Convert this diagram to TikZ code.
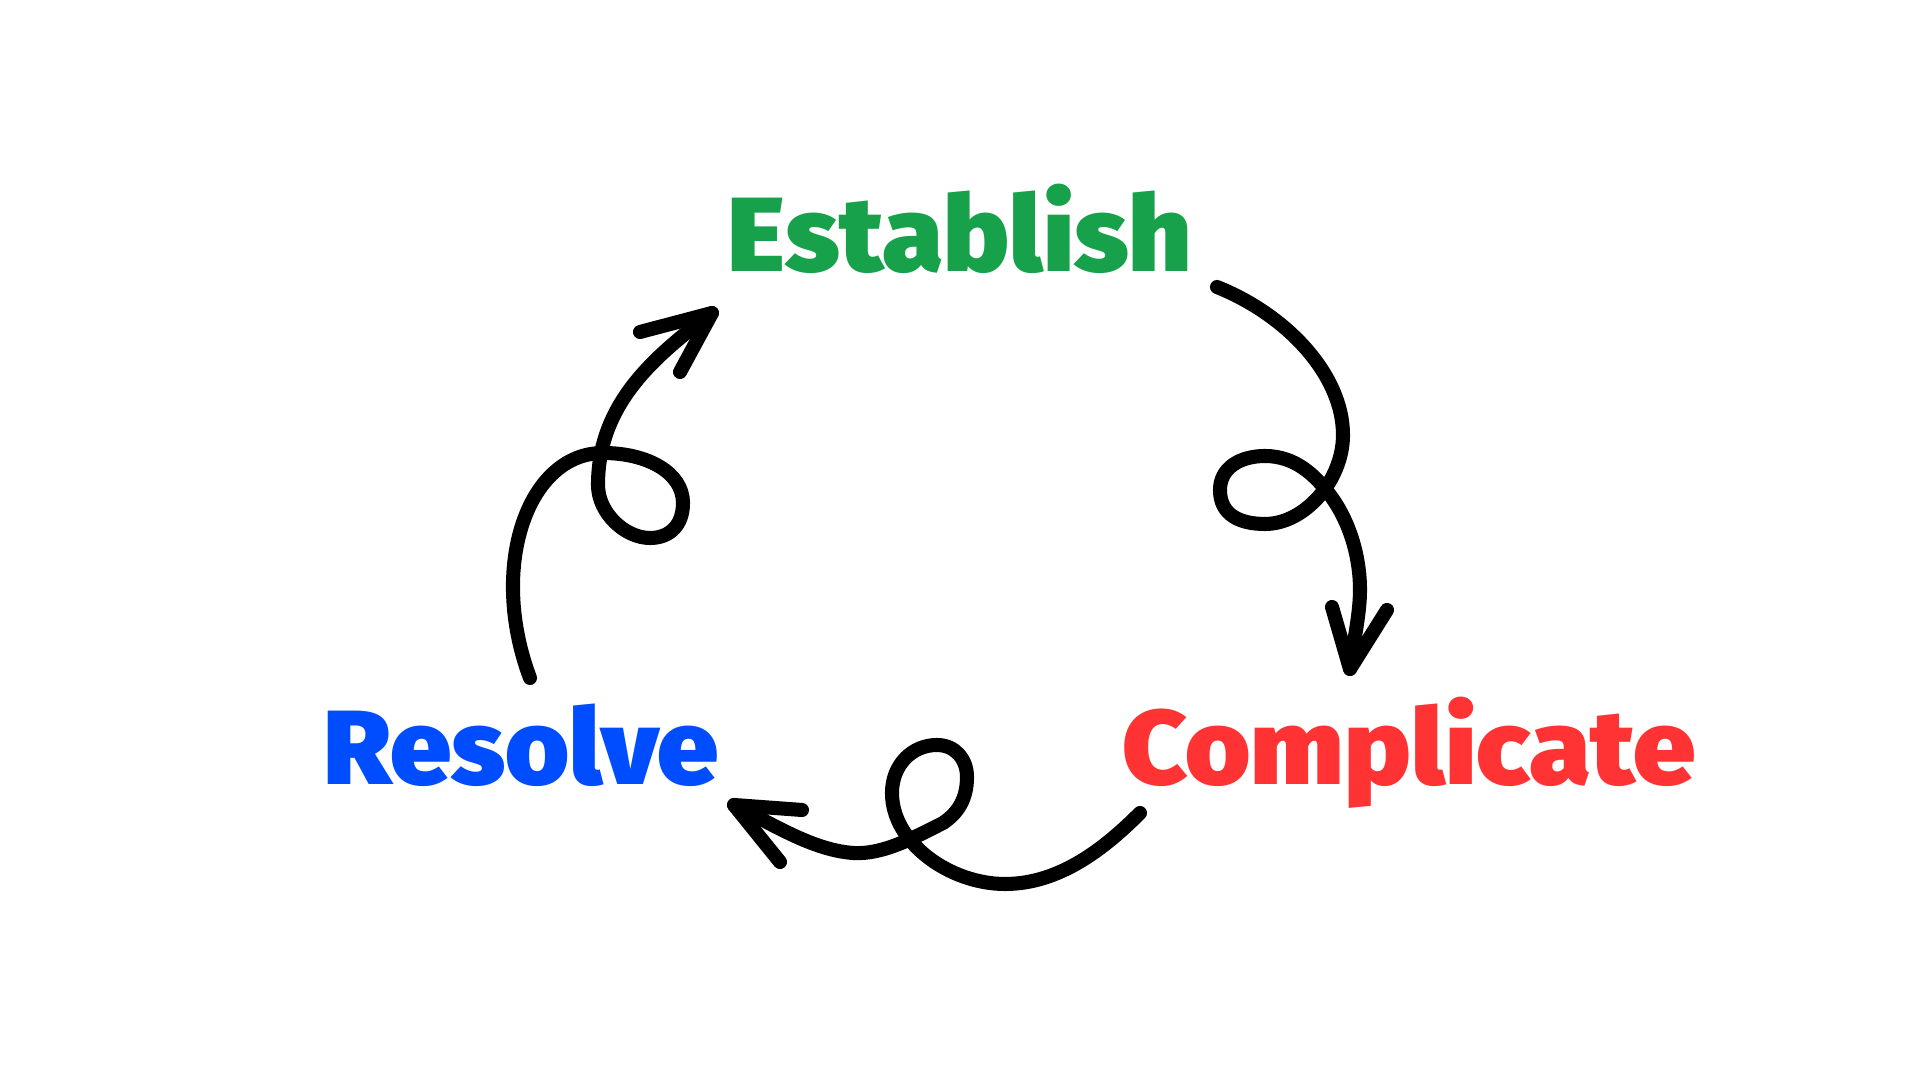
\documentclass[tikz,border=0pt]{standalone}
\usepackage{fontspec}
\usepackage{tikz}
\usetikzlibrary{positioning,calc}
\newfontfamily\stagefont{Fira Sans Black}
\definecolor{estgreen}{RGB}{22,161,74}
\definecolor{comred}{RGB}{255,51,51}
\definecolor{resblue}{RGB}{0,76,255}
\tikzset{
  stage/.style={font=\stagefont\fontsize{30}{36}\selectfont, anchor=base, inner sep=0pt},
  sketch/.style={line width=4pt, line cap=round, line join=round, black}
}

\begin{document}
\begin{tikzpicture}[x=0.01cm, y=-0.01cm]
  \useasboundingbox (0,0) rectangle (1920,1080);
  \node[stage, text=estgreen, xscale=1.05] (est) at (960,272) {Establish};
  \node[stage, text=comred, xscale=1.06] (com) at (1409,785) {Complicate};
  \node[stage, text=resblue, xscale=1.04] (res) at (521,785) {Resolve};
  % free ends of the sketched arrows
  \coordinate (est-out) at (1217,287);
  \coordinate (com-in) at (1350,669);
  \coordinate (com-out) at (1140,813);
  \coordinate (res-in) at (734,805);
  \coordinate (res-out) at (530,678);
  \coordinate (est-in) at (712,313);
  % establish -> complicate
  \draw[sketch] (est-out) .. controls +(70,28) and +(0,-60) .. (1343,435)
    .. controls +(0,45) and +(40,0) .. (1265,524)
    .. controls +(-25,0) and +(0,25) .. (1220,490)
    .. controls +(0,-22) and +(-25,0) .. (1265,456)
    .. controls +(30,0) and +(-15,-20) .. (1330,495)
    .. controls +(20,27) and +(0,-33) .. (1360,590)
    .. controls +(0,25) and +(3,-25) .. (com-in);
  \draw[sketch] (1332,607) -- (com-in) -- (1387,610);
  % complicate -> resolve
  \draw[sketch] (com-out) .. controls +(-35,35) and +(55,0) .. (1005,884)
    .. controls +(-55,0) and +(0,50) .. (892,793)
    .. controls +(0,-28) and +(-25,0) .. (937,745)
    .. controls +(18,0) and +(0,-18) .. (967,777)
    .. controls +(0,22) and +(15,-10) .. (943,823)
    .. controls +(-28,14) and +(30,2) .. (853,853)
    .. controls +(-40,-3) and +(40,20) .. (res-in);
  \draw[sketch] (802,810) -- (res-in) -- (780,862);
  % resolve -> establish
  \draw[sketch] (res-out) .. controls +(-42,-112) and +(-75,0) .. (603,453)
    .. controls +(45,0) and +(0,-30) .. (683,503)
    .. controls +(0,22) and +(20,0) .. (650,538)
    .. controls +(-25,0) and +(0,28) .. (598,485)
    .. controls +(0,-80) and +(-60,45) .. (est-in);
  \draw[sketch] (640,332) -- (est-in) -- (680,372);
\end{tikzpicture}
\end{document}
